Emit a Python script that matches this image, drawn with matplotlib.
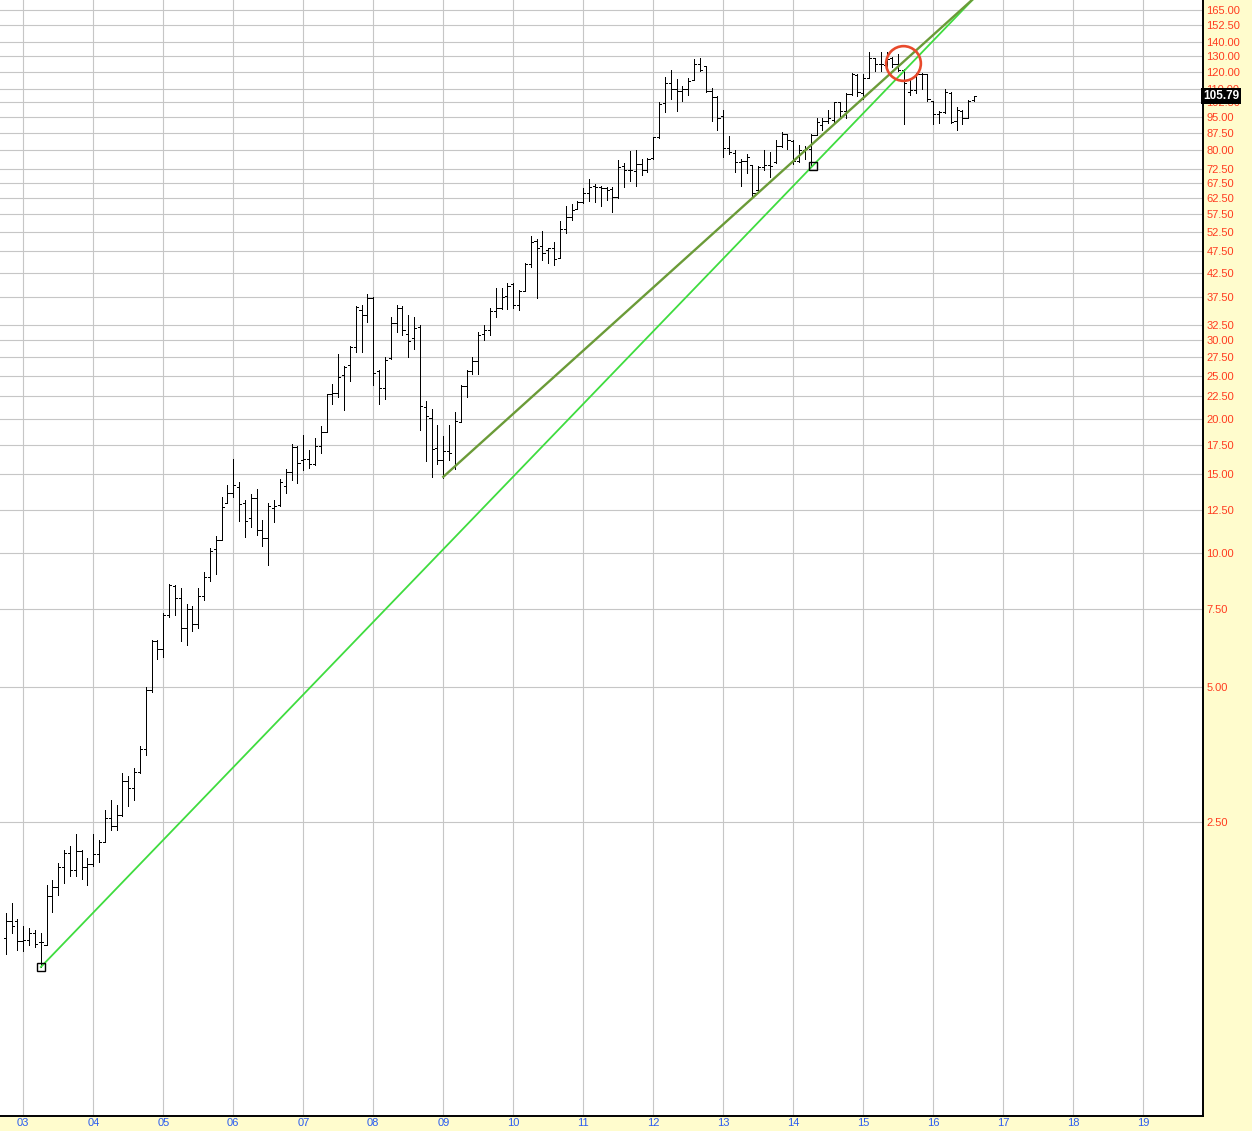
import matplotlib
matplotlib.use('Agg')
import matplotlib.pyplot as plt
import matplotlib.transforms as mtransforms
from matplotlib.ticker import NullLocator, FixedLocator, FixedFormatter
import numpy as np
import pandas as pd

# ---------------- data (monthly OHLC) ----------------
start_month = '2002-10-01'

opens = (
    [1.37, 1.50, 1.50] +
    [1.35, 1.36, 1.41, 1.34, 1.32, 1.70, 1.78, 1.98, 2.13, 1.95, 2.15, 1.98] +
    [2.01, 2.12, 2.25, 2.55, 2.45, 2.59, 3.08, 2.98, 3.23, 3.63, 4.93, 6.35] +
    [6.09, 7.26, 8.45, 7.92, 6.78, 7.48, 6.94, 8.00, 8.82, 10.19, 10.72, 12.96] +
    [13.60, 14.09, 12.96, 11.96, 13.31, 11.26, 10.78, 12.64, 12.80, 14.12, 15.21, 17.30] +
    [16.16, 16.21, 15.83, 17.38, 18.69, 22.72, 22.80, 25.10, 26.35, 29.00, 35.00, 34.20] +
    [37.30, 25.60, 23.44, 27.30, 32.80, 35.40, 30.90, 30.30, 32.10, 21.30, 20.10, 17.20] +
    [16.15, 16.90, 15.60, 19.70, 23.70, 25.60, 26.90, 30.90, 31.60, 34.80, 35.40, 37.70] +
    [40.20, 35.90, 38.70, 44.40, 50.10, 48.80, 47.70, 48.40, 45.90, 53.30, 56.80, 59.00] +
    [61.20, 64.00, 66.50, 66.00, 65.90, 65.50, 62.80, 73.60, 72.30, 71.70, 74.50, 72.30] +
    [76.90, 85.80, 102.0, 112.9, 109.7, 108.8, 110.0, 114.7, 125.0, 123.6, 108.7, 105.5] +
    [95.5, 80.9, 79.0, 75.4, 75.6, 74.0, 65.0, 73.2, 74.0, 75.1, 81.6, 86.9] +
    [84.0, 75.8, 80.0, 80.4, 86.5, 91.0, 93.0, 93.5, 102.4, 98.0, 106.9, 118.0] +
    [107.5, 116.4, 128.5, 124.7, 124.5, 128.5, 124.7, 121.0, 108.0, 109.0, 118.8, 118.4] +
    [103.0, 96.3, 97.2, 107.6, 93.0, 98.0, 94.4, 103.6]
)

highs = (
    [1.56, 1.64, 1.51] +
    [1.46, 1.44, 1.43, 1.41, 1.80, 1.85, 2.02, 2.16, 2.20, 2.35, 2.16, 2.07] +
    [2.34, 2.27, 2.65, 2.79, 2.72, 3.22, 3.16, 3.29, 3.70, 5.00, 6.39, 6.39] +
    [7.35, 8.54, 8.48, 8.34, 7.69, 7.62, 8.34, 9.05, 10.26, 10.90, 13.35, 14.20] +
    [16.23, 14.44, 13.14, 13.56, 13.91, 11.86, 12.96, 13.14, 14.62, 15.47, 17.53, 17.38] +
    [18.36, 17.06, 18.15, 19.24, 22.77, 23.97, 28.00, 26.20, 29.06, 35.78, 35.90, 38.10] +
    [37.50, 25.69, 27.51, 33.80, 36.00, 35.80, 34.11, 33.80, 32.49, 21.89, 21.01, 19.41] +
    [18.30, 19.37, 20.72, 23.85, 25.70, 27.50, 31.30, 32.50, 35.40, 39.25, 39.20, 40.30] +
    [40.40, 38.80, 44.60, 51.30, 50.60, 52.60, 48.40, 49.70, 55.40, 60.10, 60.50, 61.70] +
    [65.70, 69.00, 67.30, 66.50, 66.30, 66.00, 76.10, 74.70, 79.50, 80.00, 76.50, 76.90] +
    [85.80, 102.4, 116.8, 120.9, 115.4, 111.5, 116.0, 128.0, 128.6, 123.6, 110.2, 106.0] +
    [98.4, 86.3, 80.0, 76.4, 78.5, 74.0, 73.9, 80.2, 79.1, 84.4, 87.7, 87.2] +
    [84.4, 82.1, 81.8, 86.9, 94.3, 94.3, 98.5, 102.7, 102.7, 107.2, 119.0, 118.4] +
    [118.4, 133.1, 129.0, 133.0, 132.6, 129.6, 131.7, 121.5, 116.4, 119.4, 119.2, 118.8] +
    [103.3, 98.0, 109.6, 108.0, 100.1, 98.4, 103.6, 106.0]
)

lows = (
    [1.26, 1.41, 1.29] +
    [1.28, 1.32, 1.31, 1.18, 1.32, 1.57, 1.71, 1.82, 1.89, 1.89, 1.86, 1.80] +
    [1.99, 2.03, 2.25, 2.39, 2.39, 2.58, 2.71, 2.80, 3.21, 3.53, 4.89, 5.78] +
    [5.86, 7.18, 7.27, 6.36, 6.21, 6.67, 6.78, 7.85, 8.66, 8.99, 10.72, 12.92] +
    [13.33, 11.81, 10.84, 11.45, 10.97, 10.37, 9.40, 11.75, 12.74, 13.60, 14.57, 14.37] +
    [15.34, 15.52, 15.75, 16.77, 18.69, 21.63, 22.38, 20.97, 24.30, 28.22, 28.20, 32.90] +
    [23.76, 21.62, 22.19, 27.20, 31.29, 30.76, 27.50, 28.72, 18.91, 16.07, 14.82, 15.87] +
    [14.74, 16.15, 15.47, 19.70, 22.40, 25.24, 25.20, 30.00, 30.80, 33.80, 35.30, 35.30] +
    [35.40, 35.00, 38.70, 43.80, 37.30, 45.40, 44.80, 44.30, 45.90, 52.10, 55.90, 59.00] +
    [60.80, 61.70, 61.20, 60.10, 61.90, 58.10, 62.60, 66.00, 68.40, 66.50, 70.50, 71.40] +
    [76.50, 85.20, 97.20, 104.1, 97.70, 102.9, 106.5, 114.7, 120.1, 108.3, 92.80, 88.80] +
    [77.1, 78.4, 71.5, 66.5, 71.3, 63.3, 64.6, 72.4, 69.5, 74.8, 81.3, 80.4] +
    [74.5, 75.1, 76.4, 73.6, 86.5, 88.9, 92.2, 92.7, 94.4, 94.4, 106.6, 105.9] +
    [104.1, 116.4, 120.5, 120.5, 123.0, 123.0, 120.1, 91.5, 106.6, 107.5, 109.6, 103.3] +
    [91.5, 92.2, 96.7, 92.2, 88.7, 91.5, 94.4, 103.0]
)

closes = (
    [1.50, 1.46, 1.35] +
    [1.36, 1.41, 1.33, 1.34, 1.70, 1.78, 1.98, 2.13, 1.95, 2.15, 1.98, 2.01] +
    [2.11, 2.25, 2.55, 2.45, 2.59, 3.08, 2.98, 3.23, 3.63, 4.93, 6.35, 6.09] +
    [7.28, 8.46, 7.92, 6.78, 7.48, 6.94, 8.00, 8.82, 10.10, 10.72, 12.69, 13.60] +
    [14.20, 12.85, 11.81, 13.31, 11.26, 10.78, 12.74, 12.74, 14.44, 15.21, 17.30, 15.93] +
    [16.21, 15.83, 17.38, 18.69, 22.72, 22.80, 24.80, 26.10, 29.00, 35.60, 34.20, 37.30] +
    [25.37, 23.44, 27.04, 32.83, 35.40, 31.57, 29.82, 31.94, 21.33, 20.26, 17.15, 16.15] +
    [16.91, 16.77, 19.74, 23.69, 25.60, 26.90, 30.86, 31.60, 34.80, 35.40, 37.50, 39.60] +
    [35.90, 38.70, 44.50, 49.90, 48.30, 47.10, 48.30, 45.70, 53.30, 56.60, 58.80, 61.20] +
    [64.00, 66.30, 66.00, 65.90, 65.30, 62.80, 73.40, 72.30, 72.10, 74.50, 72.30, 76.50] +
    [85.50, 101.8, 112.9, 109.7, 108.8, 110.0, 114.6, 125.1, 121.0, 108.7, 105.5, 94.4] +
    [80.9, 79.1, 75.3, 75.8, 77.4, 64.3, 73.2, 74.0, 73.6, 81.6, 86.9, 84.4] +
    [75.8, 80.0, 80.4, 86.5, 92.6, 93.1, 94.4, 102.4, 98.0, 106.9, 118.4, 108.0] +
    [116.4, 129.0, 124.7, 124.7, 127.9, 124.7, 121.0, 113.0, 109.0, 118.8, 118.4, 104.1] +
    [96.3, 97.2, 108.0, 92.7, 98.4, 94.4, 103.3, 105.79]
)

ytick_values = [2.5, 5, 7.5, 10, 12.5, 15, 17.5, 20, 22.5, 25, 27.5, 30, 32.5,
                37.5, 42.5, 47.5, 52.5, 57.5, 62.5, 67.5, 72.5, 80, 87.5, 95,
                102.5, 110, 120, 130, 140, 152.5, 165]
year_ticks = list(range(2003, 2020))
year_labels = ['03', '04', '05', '06', '07', '08', '09', '10', '11', '12',
               '13', '14', '15', '16', '17', '18', '19']
last_price = 105.79

# long-term support line (bright green) through two low points
support_x = [2003.25, 2014.28]
support_y = [1.18, 73.9]
# trend line from the 2009 low (olive green)
trend_x = [2009.0, 2013.45]
trend_y = [14.82, 63.2]
# red circle marker
circle_x = [2015.57]
circle_y = [125.6]

# ---------------- figure ----------------
W, H = 1252, 1131
fig = plt.figure(figsize=(W / 100, H / 100), dpi=100, facecolor='#fffccd')
ax = fig.add_axes([0, 15 / H, 1203 / W, 1 - 15 / H])
ax.set_facecolor('white')
ax.set_yscale('log')
ax.set_xlim(2002.667, 2019.853)
ax.set_ylim(0.547, 173.7)

dates = pd.date_range(start_month, periods=len(closes), freq='MS')
x = np.asarray(dates.year + (dates.month - 1) / 12.0, dtype=float)

# grid
ax.yaxis.set_major_locator(FixedLocator(ytick_values))
ax.yaxis.set_major_formatter(FixedFormatter([f'{v:.2f}' for v in ytick_values]))
ax.yaxis.set_minor_locator(NullLocator())
ax.set_xticks(year_ticks)
ax.set_xticklabels(year_labels)
ax.xaxis.set_minor_locator(NullLocator())
ax.grid(True, color='#c6c6c6', lw=0.8, zorder=0)
ax.set_axisbelow(True)

# OHLC bars
w = 0.031
bar_lw = 0.62
ax.vlines(x, lows, highs, colors='black', lw=bar_lw, antialiased=False, zorder=3)
ax.hlines(opens, x - w, x, colors='black', lw=bar_lw, antialiased=False, zorder=3)
ax.hlines(closes, x, x + w, colors='black', lw=bar_lw, antialiased=False, zorder=3)

# trend lines, extended to the top of the chart
def extend(xs, ys, x_end):
    k = (np.log(ys[1]) - np.log(ys[0])) / (xs[1] - xs[0])
    return [xs[0], x_end], [ys[0], ys[0] * np.exp(k * (x_end - xs[0]))]

lx, ly = extend(support_x, support_y, 2017.2)
ax.plot(lx, ly, color='#3fdc3f', lw=1.3, zorder=4)
tx, ty = extend(trend_x, trend_y, 2017.2)
ax.plot(tx, ty, color='#6b9b38', lw=1.7, zorder=4)

ax.plot(support_x, support_y, 's', mfc='none', mec='black', ms=5.8, mew=1.0, zorder=5)
ax.plot(circle_x, circle_y, 'o', mfc='none', mec='#e84a2c', ms=25, mew=1.9, zorder=5)

# axes styling
ax.yaxis.tick_right()
ax.tick_params(axis='y', length=0, pad=2.5, labelsize=8, labelcolor='#ff3b1f')
ax.tick_params(axis='x', length=0, pad=1.5, labelsize=8, labelcolor='#2a5cf0')
for lab in ax.get_yticklabels() + ax.get_xticklabels():
    lab.set_family('Liberation Sans')
for s in ['left', 'top']:
    ax.spines[s].set_visible(False)
for s in ['right', 'bottom']:
    ax.spines[s].set_color('black')
    ax.spines[s].set_linewidth(1.4)

# last price label
trans = mtransforms.blended_transform_factory(ax.transAxes, ax.transData)
ax.text(1.0, last_price, f'{last_price:.2f}', transform=trans, ha='left', va='center',
        color='white', fontsize=8.5, fontweight='bold', family='Liberation Sans',
        bbox=dict(boxstyle='square,pad=0.2', fc='black', ec='none'),
        zorder=10, clip_on=False)

fig.savefig('out.png', dpi=100, facecolor=fig.get_facecolor())
